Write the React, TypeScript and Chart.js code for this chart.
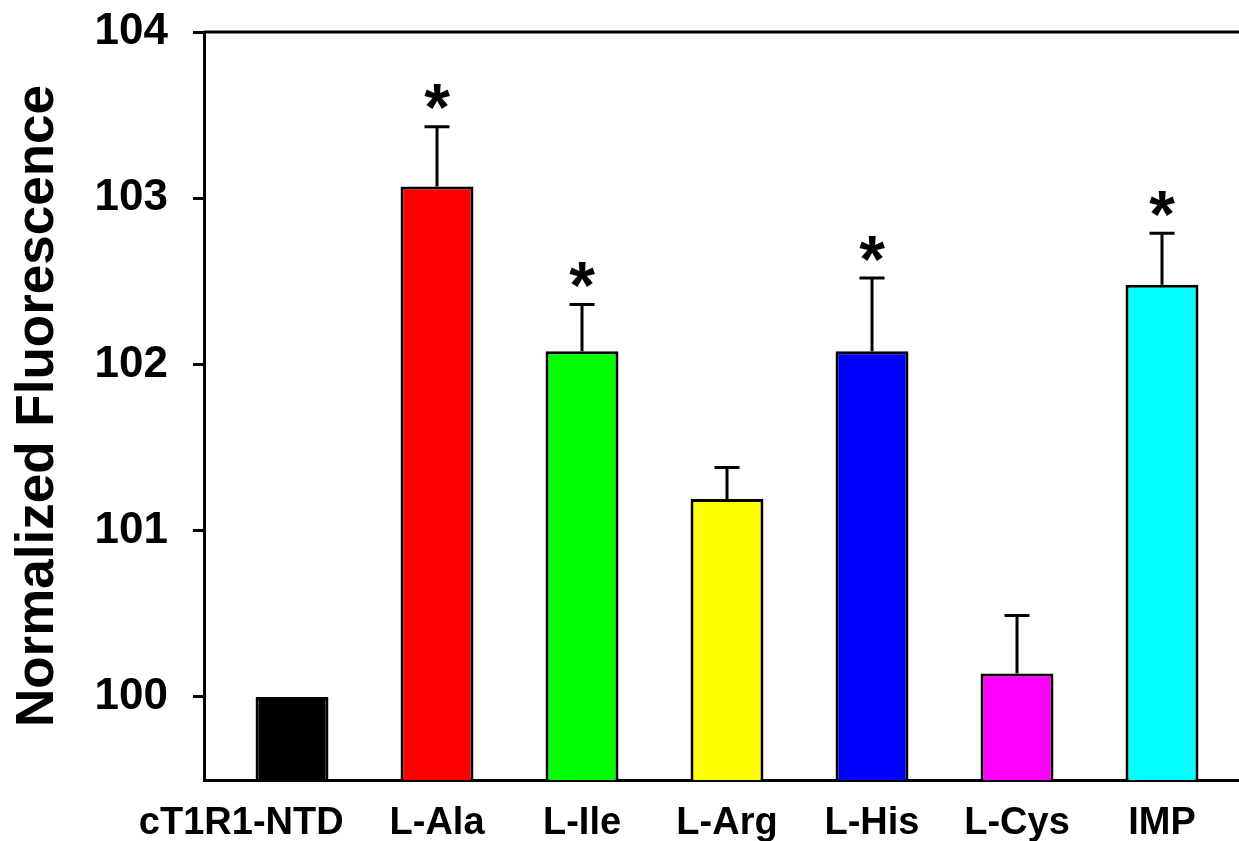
import React, { useEffect, useRef } from "react";
import { Chart, registerables } from "chart.js";

Chart.register(...registerables);

const categories = ["cT1R1-NTD", "L-Ala", "L-Ile", "L-Arg", "L-His", "L-Cys", "IMP"];
const means = [100, 103.07, 102.08, 101.19, 102.08, 100.14, 102.48];
const upperErrors = [0, 0.36, 0.28, 0.19, 0.44, 0.35, 0.31];
const significant = [false, true, true, false, true, false, true];
const barColors = ["#000000", "#ff0000", "#00ff00", "#ffff00", "#0000ff", "#ff00ff", "#00ffff"];
const yTicks = [100, 101, 102, 103, 104];

const FONT = "'Liberation Sans', Arial, sans-serif";
// the first category label is set a little to the left of its bar in the original
const FIRST_LABEL_SHIFT = -0.35;

const errorBarPlugin = {
  id: "errorBars",
  afterDatasetsDraw(chart: any) {
    const ctx = chart.ctx;
    const meta = chart.getDatasetMeta(0);
    const yScale = chart.scales.y;
    ctx.save();
    ctx.strokeStyle = "#000";
    ctx.lineWidth = 3;
    ctx.fillStyle = "#000";
    ctx.font = `bold 66px ${FONT}`;
    ctx.textAlign = "center";
    ctx.textBaseline = "alphabetic";
    meta.data.forEach((bar: any, i: number) => {
      const x = bar.x;
      const yv = yScale.getPixelForValue(means[i]);
      const yt = yScale.getPixelForValue(means[i] + upperErrors[i]);
      if (upperErrors[i] > 0) {
        ctx.beginPath();
        ctx.moveTo(x, yv);
        ctx.lineTo(x, yt);
        ctx.moveTo(x - 12.5, yt);
        ctx.lineTo(x + 12.5, yt);
        ctx.stroke();
      }
      if (significant[i]) {
        const m = ctx.measureText("*");
        const asc = m.actualBoundingBoxAscent;
        const desc = m.actualBoundingBoxDescent;
        const cy = yt - 30;
        ctx.fillText("*", x, cy + (asc - desc) / 2);
      }
    });
    ctx.restore();
  },
};

const frameTopPlugin = {
  id: "frameTop",
  afterDraw(chart: any) {
    const ctx = chart.ctx;
    const { left, top } = chart.chartArea;
    ctx.save();
    ctx.strokeStyle = "#000";
    ctx.lineWidth = 3;
    ctx.beginPath();
    ctx.moveTo(left, top);
    ctx.lineTo(chart.width, top);
    ctx.stroke();
    ctx.restore();
  },
};

export default function App() {
  const canvasRef = useRef<HTMLCanvasElement | null>(null);

  useEffect(() => {
    const prevMargin = document.body.style.margin;
    document.body.style.margin = "0";
    const canvas = canvasRef.current;
    if (!canvas) return;
    const chart = new Chart(canvas, {
      type: "bar",
      data: {
        datasets: [
          {
            data: means.map((v, i) => ({ x: i, y: v })),
            backgroundColor: barColors,
            borderColor: "#000",
            borderWidth: 3,
            borderSkipped: false,
            barPercentage: 0.503,
            categoryPercentage: 1,
          },
        ],
      },
      options: {
        animation: false,
        responsive: true,
        maintainAspectRatio: false,
        layout: { padding: { top: 32, right: 0, left: 0, bottom: 0 } },
        plugins: {
          legend: { display: false },
          tooltip: { enabled: false },
        },
        scales: {
          x: {
            type: "linear",
            min: -0.607,
            max: 6.531,
            offset: false,
            afterBuildTicks: (scale: any) => {
              scale.ticks = categories.map((_, i) => ({ value: i === 0 ? i + FIRST_LABEL_SHIFT : i }));
            },
            afterFit: (scale: any) => {
              scale.height = 61;
              scale.paddingLeft = 0;
              scale.paddingRight = 0;
            },
            grid: { display: false, drawTicks: false },
            border: { display: true, color: "#000", width: 3 },
            ticks: {
              autoSkip: false,
              maxRotation: 0,
              padding: 21,
              color: "#000",
              font: { family: FONT, size: 38, weight: "bold" },
              callback: (v: any) => categories[Math.round(Number(v))] ?? "",
            },
          },
          y: {
            type: "linear",
            min: 99.5,
            max: 104,
            afterBuildTicks: (scale: any) => {
              scale.ticks = yTicks.map((v) => ({ value: v }));
            },
            afterFit: (scale: any) => {
              scale.width = 204;
              scale.paddingTop = 0;
              scale.paddingBottom = 0;
            },
            grid: {
              display: true,
              drawOnChartArea: false,
              drawTicks: true,
              tickLength: 11,
              tickWidth: 3,
              tickColor: "#000",
            },
            border: { display: true, color: "#000", width: 3 },
            ticks: {
              padding: 25,
              color: "#000",
              font: { family: FONT, size: 44, weight: "bold" },
              callback: (v: any) => String(v),
            },
            title: {
              display: true,
              text: "Normalized Fluorescence",
              color: "#000",
              padding: { top: 7, bottom: 0 },
              font: { family: FONT, size: 53, weight: "bold" },
            },
          },
        },
      },
      plugins: [errorBarPlugin, frameTopPlugin],
    });
    return () => {
      chart.destroy();
      document.body.style.margin = prevMargin;
    };
  }, []);

  return (
    <div style={{ position: "fixed", left: 0, top: 0, width: 1239, height: 841, background: "#fff" }}>
      <canvas ref={canvasRef} />
    </div>
  );
}
